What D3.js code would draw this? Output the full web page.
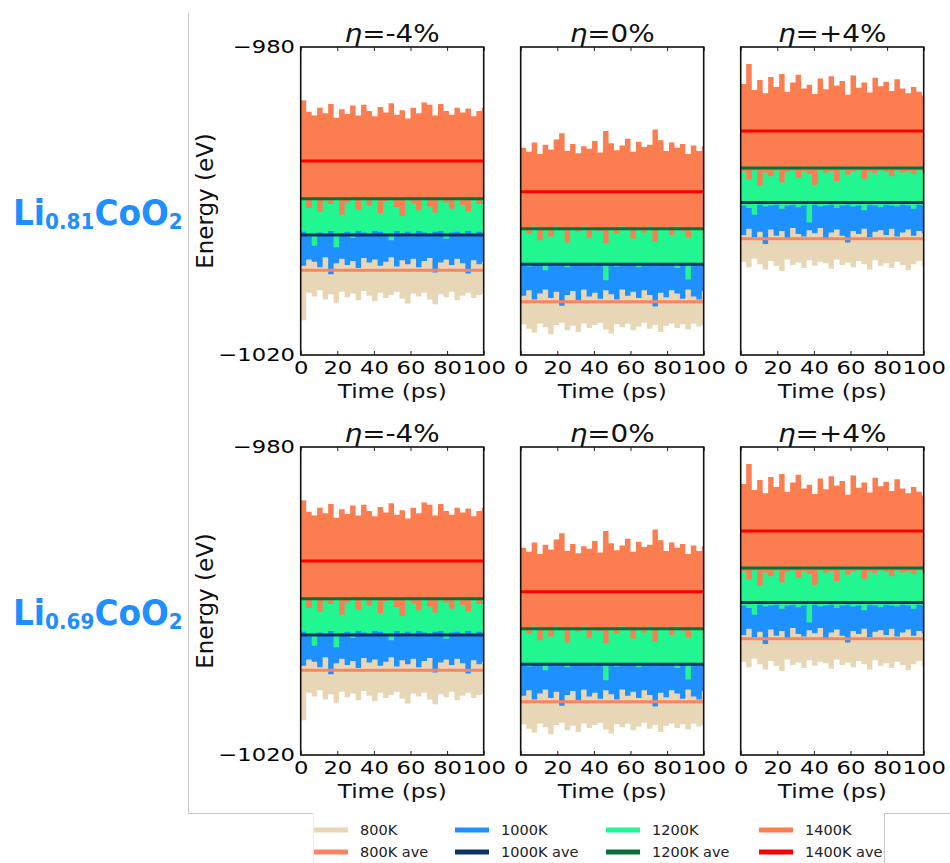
<!DOCTYPE html>
<html>
<head>
<meta charset="utf-8">
<script src="https://cdn.jsdelivr.net/npm/d3@7"></script>
<style>
  body { margin: 0; background: #fff; }
  text { font-family: "DejaVu Sans", sans-serif; }
</style>
</head>
<body>
<script>
// ---- data (both rows show the same runs) ----
const temps = ["800K", "1000K", "1200K", "1400K"];
const strains = ["-4%", "0%", "+4%"];
const compositions = [["Li", "0.81", "CoO", "2"], ["Li", "0.69", "CoO", "2"]];
const timeTicks = [0, 20, 40, 60, 80, 100];
const energyTicks = [-980, -1020];
const sampleStep = 3; // ps between envelope samples

// running averages, per strain: 800K, 1000K, 1200K, 1400K
const ave = [
  [-1009.0, -1004.4, -999.7, -994.8],
  [-1013.1, -1008.2, -1003.6, -998.8],
  [-1004.9, -1000.2, -995.7, -990.9]
];

// upper envelope of the 1400K trace
const top1400 = [
  [-986.9,-988.4,-988.9,-987.9,-988.6,-987.4,-989.2,-988.1,-988.7,-987.6,-988.9,-987.5,-988.3,-989.0,-987.8,-988.5,-987.3,-988.8,-988.2,-989.3,-987.9,-988.6,-987.2,-987.5,-988.9,-987.4,-988.3,-988.8,-987.9,-988.5,-988.0,-989.0,-988.3,-987.9],
  [-993.1,-993.6,-992.4,-993.9,-992.7,-993.3,-992.0,-991.2,-993.5,-992.6,-993.8,-992.9,-993.2,-992.2,-993.7,-990.9,-992.5,-993.4,-992.8,-991.9,-993.6,-992.3,-993.0,-992.7,-990.7,-992.1,-993.5,-992.4,-993.1,-992.6,-993.9,-992.8,-993.5,-992.9],
  [-984.8,-982.2,-985.6,-984.3,-986.0,-983.9,-985.2,-983.5,-985.8,-984.6,-983.6,-985.4,-984.9,-986.1,-984.1,-985.5,-983.8,-985.0,-984.4,-986.2,-983.7,-985.3,-984.6,-985.9,-984.0,-985.1,-984.5,-985.7,-984.2,-985.4,-986.0,-985.2,-985.8,-986.3]
];
// lower envelopes
const bot1400 = [
  [-999.8,-1000.9,-999.6,-1001.4,-999.9,-1000.4,-999.6,-1001.8,-1000.2,-999.7,-1001.1,-999.8,-1000.6,-999.6,-1001.6,-1000.0,-999.7,-1000.8,-1001.9,-999.8,-1000.3,-1001.2,-999.6,-1000.7,-1001.5,-999.9,-1000.2,-1001.0,-999.7,-1000.5,-1001.3,-999.8,-1000.4,-999.9],
  [-1003.4,-1004.2,-1003.3,-1005.1,-1003.6,-1004.6,-1003.3,-1003.8,-1005.4,-1003.4,-1004.0,-1003.3,-1004.8,-1003.5,-1003.9,-1005.5,-1003.4,-1004.3,-1003.3,-1003.7,-1004.9,-1003.4,-1004.1,-1003.3,-1005.3,-1003.6,-1003.4,-1004.4,-1003.3,-1003.9,-1004.7,-1003.4,-1003.8,-1003.5],
  [-996.1,-997.2,-996.0,-998.0,-996.3,-996.8,-996.0,-997.6,-996.2,-996.0,-997.0,-996.1,-996.5,-997.9,-996.0,-996.3,-996.1,-997.4,-996.0,-996.6,-996.2,-996.0,-997.1,-996.1,-996.4,-996.0,-996.2,-996.8,-996.0,-996.3,-996.1,-996.5,-996.0,-996.2]
];
const bot1200 = [
  [-1004.0,-1004.6,-1005.8,-1004.1,-1004.3,-1003.9,-1006.0,-1004.2,-1004.0,-1004.8,-1003.9,-1004.1,-1004.5,-1003.9,-1004.0,-1004.3,-1005.1,-1003.9,-1004.2,-1004.0,-1004.6,-1003.9,-1004.1,-1004.3,-1004.0,-1003.9,-1004.9,-1004.1,-1004.0,-1004.3,-1003.9,-1004.4,-1004.0,-1004.2],
  [-1008.2,-1008.5,-1008.1,-1008.3,-1009.0,-1008.1,-1008.4,-1008.2,-1008.6,-1008.1,-1008.3,-1008.2,-1008.1,-1008.4,-1008.2,-1010.3,-1008.1,-1008.5,-1008.2,-1008.3,-1008.1,-1008.6,-1008.2,-1008.1,-1008.4,-1008.2,-1008.1,-1008.3,-1008.7,-1008.2,-1010.2,-1008.1,-1008.4,-1008.2],
  [-1000.6,-1000.9,-1001.8,-1000.5,-1000.7,-1000.6,-1000.5,-1001.0,-1000.6,-1000.5,-1000.8,-1000.6,-1002.8,-1000.5,-1000.7,-1000.6,-1000.5,-1000.9,-1000.6,-1000.5,-1000.7,-1000.6,-1001.2,-1000.5,-1000.6,-1000.8,-1000.5,-1000.6,-1000.7,-1000.5,-1000.6,-1001.0,-1000.5,-1000.6]
];
const bot1000 = [
  [-1008.4,-1007.6,-1007.9,-1008.6,-1007.3,-1009.5,-1008.1,-1007.5,-1008.3,-1007.8,-1008.7,-1007.4,-1008.0,-1007.6,-1008.4,-1007.9,-1007.3,-1008.5,-1007.7,-1008.2,-1007.5,-1008.6,-1007.8,-1007.4,-1009.3,-1008.0,-1007.6,-1008.3,-1007.5,-1008.1,-1009.4,-1007.7,-1008.2,-1007.9],
  [-1012.3,-1011.6,-1012.8,-1012.0,-1011.5,-1012.6,-1011.8,-1013.6,-1012.2,-1011.7,-1012.9,-1011.5,-1012.4,-1011.9,-1012.7,-1011.6,-1012.1,-1012.8,-1011.5,-1012.3,-1011.8,-1012.6,-1011.6,-1012.2,-1013.7,-1011.9,-1012.5,-1011.6,-1012.0,-1012.7,-1011.5,-1012.4,-1012.8,-1011.7],
  [-1004.4,-1003.6,-1004.7,-1004.0,-1005.6,-1003.7,-1004.5,-1003.9,-1004.8,-1003.5,-1004.3,-1004.6,-1003.8,-1004.2,-1003.5,-1004.9,-1004.1,-1003.7,-1004.5,-1005.4,-1003.9,-1004.3,-1003.6,-1004.7,-1004.0,-1003.8,-1004.4,-1003.6,-1004.6,-1004.1,-1003.7,-1004.5,-1003.9,-1004.2]
];
const bot800 = [
  [-1015.5,-1011.9,-1012.4,-1011.6,-1012.8,-1012.1,-1013.2,-1011.8,-1012.5,-1012.0,-1012.9,-1011.7,-1012.3,-1013.0,-1011.9,-1012.6,-1012.2,-1011.8,-1012.7,-1013.3,-1012.0,-1012.4,-1011.9,-1012.8,-1013.4,-1012.1,-1012.5,-1011.8,-1012.9,-1012.3,-1011.9,-1012.6,-1012.2,-1012.0],
  [-1016.0,-1016.6,-1017.1,-1015.9,-1016.4,-1017.3,-1016.1,-1015.8,-1016.8,-1016.2,-1017.0,-1015.9,-1016.5,-1016.1,-1015.8,-1016.7,-1017.2,-1016.0,-1016.4,-1015.9,-1016.8,-1016.3,-1015.8,-1016.6,-1016.1,-1017.0,-1016.2,-1015.9,-1016.5,-1016.0,-1016.7,-1015.9,-1016.3,-1016.1],
  [-1007.9,-1008.6,-1007.5,-1008.2,-1008.9,-1007.8,-1008.4,-1009.1,-1007.6,-1008.3,-1008.0,-1008.7,-1007.7,-1008.4,-1007.9,-1008.1,-1008.8,-1007.6,-1008.3,-1008.0,-1008.6,-1007.8,-1008.2,-1008.9,-1007.7,-1008.4,-1008.1,-1008.7,-1007.9,-1008.3,-1009.0,-1008.2,-1007.8,-1008.5]
];
// upper envelopes hidden under the hotter trace (flat)
const top1200 = [-999.0, -1003.0, -995.2];
const top1000 = [-1003.3, -1007.6, -999.6];
const top800 = [-1007.0, -1011.0, -1003.2];

const bandColor = ["#e8d7b6", "#1e90ff", "#22f690", "#fb7d50"];
const aveColor = ["#fd8260", "#0a3566", "#08703a", "#ff0000"];

// ---- layout ----
const svg = d3.select("body").append("svg")
  .attr("width", 950)
  .attr("height", 863);

const rowTop = [47, 447], rowH = 308;
const colX = [300.7, 520.7, 740.7], colW = 183;

const x = d3.scaleLinear().domain([0, 100]).range([0, colW]);
const y = d3.scaleLinear().domain([-1020, -980]).range([rowH, 0]);

const area = d3.area()
  .curve(d3.curveStepAfter)
  .x(d => x(d.t))
  .y0(d => y(d.lo))
  .y1(d => y(d.hi));

const line = d3.line()
  .x(d => x(d[0]))
  .y(d => y(d[1]));

function bandData(p, k) {
  const lows = [bot800, bot1000, bot1200, bot1400][k][p];
  const highs = [top800[p], top1000[p], top1200[p], top1400[p]][k];
  const pts = lows.map((v, i) => ({
    t: i * sampleStep,
    lo: v,
    hi: Array.isArray(highs) ? highs[i] : highs
  }));
  const last = pts[pts.length - 1];
  pts.push({t: 100, lo: last.lo, hi: last.hi});
  return pts;
}

// decorative frame lines around the figure
svg.append("path")
  .attr("d", "M188.5,12 V813.5 H313")
  .attr("fill", "none").attr("stroke", "#c8c8c8").attr("stroke-width", 1);
svg.append("path")
  .attr("d", "M313.5,814 V863")
  .attr("fill", "none").attr("stroke", "#f1ece2").attr("stroke-width", 1);
svg.append("path")
  .attr("d", "M884.5,863 V813.5 H950")
  .attr("fill", "none").attr("stroke", "#c8c8c8").attr("stroke-width", 1);

// the figure's text is a little wider than it is tall
const wide = 1.26;

rowTop.forEach((top, r) => {
  strains.forEach((eta, p) => {
    const g = svg.append("g")
      .attr("transform", `translate(${colX[p]},${top})`);

    const clipId = `clip-${r}-${p}`;
    g.append("clipPath").attr("id", clipId)
      .append("rect").attr("width", colW).attr("height", rowH);

    const plot = g.append("g").attr("clip-path", `url(#${clipId})`);

    temps.forEach((tname, k) => {
      plot.append("path")
        .datum(bandData(p, k))
        .attr("fill", bandColor[k])
        .attr("d", area);
    });

    temps.forEach((tname, k) => {
      plot.append("path")
        .datum([[0, ave[p][k]], [100, ave[p][k]]])
        .attr("fill", "none")
        .attr("stroke", aveColor[k])
        .attr("stroke-width", 3)
        .attr("d", line);
    });

    // x axis with inward ticks
    g.append("g")
      .attr("transform", `translate(0,${rowH})`)
      .call(d3.axisBottom(x).tickValues(timeTicks).tickSizeInner(-4).tickSizeOuter(0).tickPadding(6))
      .call(a => a.select(".domain").remove())
      .call(a => a.selectAll("text")
        .attr("font-size", 18)
        .attr("font-family", "DejaVu Sans")
        .attr("fill", "#000")
        .attr("transform", `scale(${wide},1)`))
      .call(a => a.selectAll(".tick line").attr("stroke", "#222"));

    g.append("g")
      .call(d3.axisTop(x).tickValues(timeTicks).tickSizeInner(-4).tickSizeOuter(0).tickFormat(""))
      .call(a => a.select(".domain").remove())
      .call(a => a.selectAll(".tick line").attr("stroke", "#222"));

    if (p === 0) {
      g.append("g")
        .call(d3.axisLeft(y).tickValues(energyTicks).tickSize(0).tickPadding(4.5).tickFormat(d3.format("d")))
        .call(a => a.select(".domain").remove())
        .call(a => a.selectAll("text")
          .attr("font-size", 18)
          .attr("font-family", "DejaVu Sans")
          .attr("fill", "#000")
          .attr("transform", `scale(${wide},1)`));

      g.append("text")
        .attr("transform", `translate(-88,${rowH / 2}) rotate(-90)`)
        .attr("text-anchor", "middle")
        .attr("font-size", 23)
        .attr("fill", "#111")
        .text("Energy (eV)");
    }

    g.append("rect")
      .attr("width", colW).attr("height", rowH)
      .attr("fill", "none")
      .attr("stroke", "#111")
      .attr("stroke-width", 1.6);

    g.append("text")
      .attr("transform", `translate(${colW / 2},${rowH + 43}) scale(1.22,1)`)
      .attr("text-anchor", "middle")
      .attr("font-size", 19)
      .attr("fill", "#111")
      .text("Time (ps)");

    const title = g.append("text")
      .attr("transform", `translate(${colW / 2},-5.5) scale(1.16,1)`)
      .attr("text-anchor", "middle")
      .attr("font-size", 24)
      .attr("fill", "#111");
    title.append("tspan").attr("font-style", "italic").text("η");
    title.append("tspan").text("=" + eta);
  });

  // composition label at the left of each row
  const c = compositions[r];
  const lab = svg.append("text")
    .attr("transform", `translate(13,${top + 178}) scale(0.91,1)`)
    .attr("font-family", "Liberation Sans, Arial, sans-serif")
    .attr("font-weight", "bold")
    .attr("fill", "#1e8fff");
  lab.append("tspan").attr("font-size", 36).text(c[0]);
  lab.append("tspan").attr("font-size", 22).attr("dy", 4).text(c[1]);
  lab.append("tspan").attr("font-size", 36).attr("dy", -4).text(c[2]);
  lab.append("tspan").attr("font-size", 22).attr("dy", 4).text(c[3]);
});

// legend
const legendCols = [314, 455, 606, 759];
temps.forEach((tname, k) => {
  const lg = svg.append("g").attr("transform", `translate(${legendCols[k]},0)`);
  [[tname, bandColor[k], 830], [tname + " ave", aveColor[k], 852]].forEach(([label, col, ly]) => {
    lg.append("line")
      .attr("x1", 0).attr("x2", 34)
      .attr("y1", ly).attr("y2", ly)
      .attr("stroke", col)
      .attr("stroke-width", 5);
    lg.append("text")
      .attr("x", 46)
      .attr("y", ly)
      .attr("dy", "0.35em")
      .attr("font-size", 14.5)
      .attr("fill", "#222")
      .text(label);
  });
});
</script>
</body>
</html>
